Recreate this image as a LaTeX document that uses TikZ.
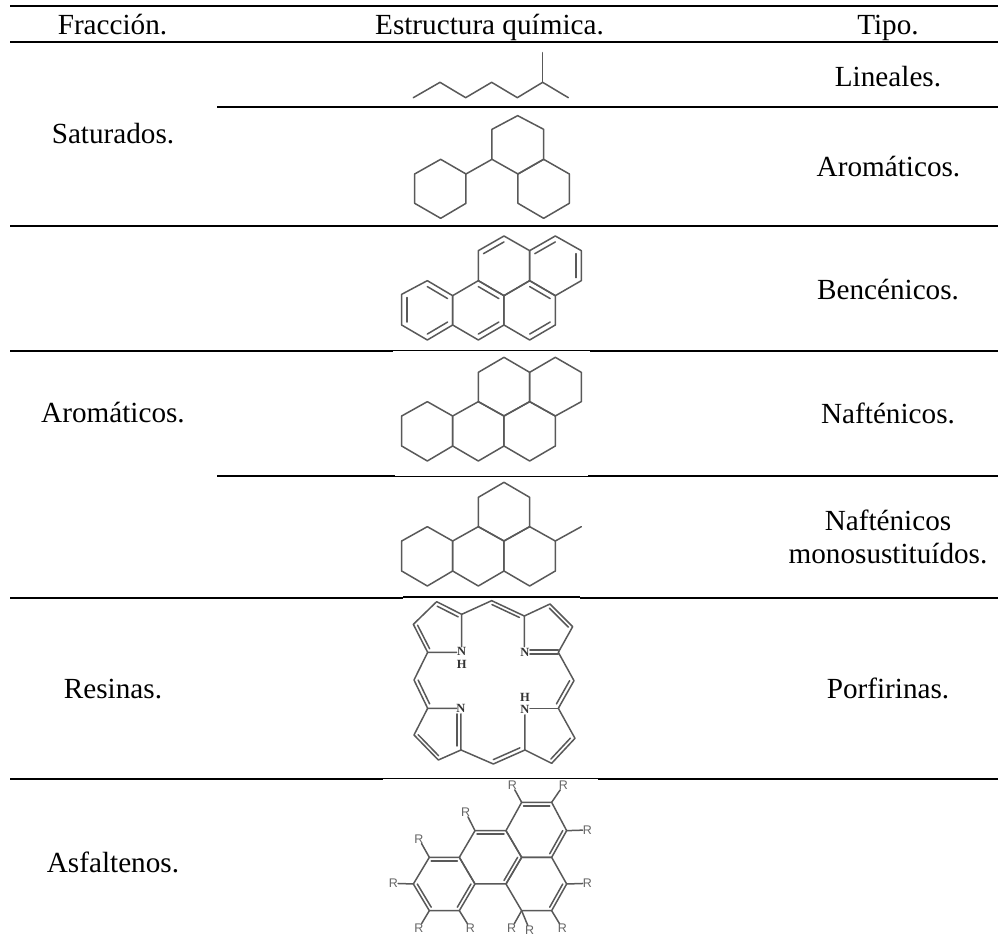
\documentclass[tikz,border=0pt]{standalone}
\usepackage{fontspec}
\setmainfont{Liberation Serif}
\newfontfamily\molsans{Liberation Sans}
\usetikzlibrary{calc}
\tikzset{
  txt/.style={inner sep=0pt,anchor=base,align=center,font=\fontsize{29.2}{34}\selectfont,text=black},
  rule/.style={line width=2pt,black},
  thinrule/.style={line width=1.1pt,black},
  bond/.style={line width=1.5pt,draw=black!65,line join=round,line cap=round},
  zoomed/.style={shift={#1},x=0.3333pt,y=-0.3333pt},
  atomN/.style={inner sep=0pt,font=\fontsize{12.5}{13}\selectfont\bfseries,text=black!80},
  atomR/.style={inner sep=0pt,font=\molsans\fontsize{12.5}{13}\selectfont,text=black!60}
}
\newcommand{\hexring}[6]{\draw[bond] #1 -- #2 -- #3 -- #4 -- #5 -- #6 -- cycle;}
\newcommand{\dbl}[4][.8]{\draw[bond] ($#4!#1!#2$) -- ($#4!#1!#3$);}
\begin{document}
\begin{tikzpicture}[x=1pt,y=-1pt]
\useasboundingbox (0,0) rectangle (998,941);
\fill[white] (0,0) rectangle (998,941);

% table rules
\draw[rule] (10,6) -- (998,6);
\draw[rule] (10,42) -- (998,42);
\draw[rule] (217,107.5) -- (998,107.5);
\draw[rule] (10,226) -- (998,226);
\draw[rule] (10,351) -- (393,351);
\draw[rule] (590,351) -- (998,351);
\draw[thinrule] (393,350.5) -- (590,350.5);
\draw[rule] (217,476) -- (395,476);
\draw[rule] (588,476) -- (998,476);
\draw[thinrule] (395,476.4) -- (588,476.4);
\draw[rule] (10,597.5) -- (403,597.5);
\draw[rule] (580,597.5) -- (998,597.5);
\draw[thinrule] (403,597) -- (580,597);
\draw[rule] (10,779) -- (383,779);
\draw[rule] (598,779) -- (998,779);
\draw[thinrule] (383,778.6) -- (598,778.6);

% texts
\node[txt] (h1) at (112.5,35) {Fracción.};
\node[txt] (h2) at (489.5,34.5) {Estructura química.};
\node[txt] (h3) at (888,35) {Tipo.};
\node[txt] (f1) at (113,144) {Saturados.};
\node[txt] (f2) at (113,422) {Aromáticos.};
\node[txt] (f3) at (113,698) {Resinas.};
\node[txt] (f4) at (113,872) {Asfaltenos.};
\node[txt] (t1) at (888,87) {Lineales.};
\node[txt] (t2) at (888.5,177) {Aromáticos.};
\node[txt] (t3) at (888,299) {Bencénicos.};
\node[txt] (t4) at (888,423) {Nafténicos.};
\node[txt] (t5a) at (888,530) {Nafténicos};
\node[txt] (t5b) at (888,563) {monosustituídos.};
\node[txt] (t6) at (888,698) {Porfirinas.};

% lineal + saturated rings
\begin{scope}[zoomed={(380pt,-30pt)}]
\draw[bond] (100,203) -- (180,157) -- (257,203) -- (335,157) -- (412,203) -- (488,157) -- (565,203);
\draw[bond] (488,157) -- (488,68);
\hexring{(104,432)}{(182,388)}{(258,432)}{(258,520)}{(182,565)}{(104,520)}
\draw[bond] (258,432) -- (336,388);
\hexring{(336,388)}{(336,298)}{(413,257)}{(491,298)}{(491,388)}{(414,432)}
\hexring{(414,432)}{(491,388)}{(568,432)}{(568,520)}{(491,565)}{(414,520)}
\end{scope}

% bencenicos
\begin{scope}[zoomed={(380pt,-225pt)}]
\hexring{(65,208)}{(142,167)}{(218,212)}{(218,300)}{(142,345)}{(65,300)}
\hexring{(218,212)}{(295,167)}{(372,212)}{(372,300)}{(295,345)}{(218,300)}
\hexring{(372,212)}{(449,167)}{(526,212)}{(526,300)}{(449,345)}{(372,300)}
\hexring{(295,167)}{(295,77)}{(372,33)}{(449,77)}{(449,167)}{(372,212)}
\hexring{(449,77)}{(526,33)}{(604,77)}{(604,167)}{(526,212)}{(449,167)}
\dbl{(142,167)}{(218,212)}{(142,256)}
\dbl{(65,208)}{(65,300)}{(142,256)}
\dbl{(142,345)}{(218,300)}{(142,256)}
\dbl{(295,167)}{(372,212)}{(295,256)}
\dbl{(295,345)}{(372,300)}{(295,256)}
\dbl{(449,167)}{(526,212)}{(449,256)}
\dbl{(449,345)}{(526,300)}{(449,256)}
\dbl{(295,77)}{(372,33)}{(372,122)}
\dbl{(449,77)}{(526,33)}{(526,122)}
\dbl{(604,77)}{(604,167)}{(526,122)}
\end{scope}

% naftenicos
\begin{scope}[zoomed={(380pt,-350pt)}]
\hexring{(65,198)}{(142,155)}{(218,198)}{(218,288)}{(142,333)}{(65,288)}
\hexring{(218,198)}{(295,155)}{(372,198)}{(372,288)}{(295,333)}{(218,288)}
\hexring{(372,198)}{(449,155)}{(526,198)}{(526,288)}{(449,333)}{(372,288)}
\hexring{(295,155)}{(295,67)}{(372,22)}{(449,67)}{(449,155)}{(372,198)}
\hexring{(449,67)}{(526,22)}{(604,67)}{(604,155)}{(526,198)}{(449,155)}
\end{scope}

% naftenicos monosustituidos
\begin{scope}[zoomed={(380pt,-475pt)}]
\hexring{(65,198)}{(142,155)}{(218,198)}{(218,288)}{(142,333)}{(65,288)}
\hexring{(218,198)}{(295,155)}{(372,198)}{(372,288)}{(295,333)}{(218,288)}
\hexring{(372,198)}{(449,155)}{(526,198)}{(526,288)}{(449,333)}{(372,288)}
\hexring{(295,155)}{(295,67)}{(372,22)}{(449,67)}{(449,155)}{(372,198)}
\draw[bond] (526,198) -- (604,155);
\end{scope}

% porfirinas
\begin{scope}[zoomed={(390pt,-590pt)}]
\draw[bond] (200,187) -- (113,187) -- (70,103) -- (140,35) -- (215,73) -- (215,170);
\draw[bond] (215,73) -- (305,32) -- (403,78) -- (403,170);
\draw[bond] (403,78) -- (480,42) -- (548,110) -- (505,187) -- (552,272) -- (505,355) -- (555,445) -- (485,520) -- (405,480) -- (405,375);
\draw[bond] (505,355) -- (420,355);
\draw[bond] (405,480) -- (310,522) -- (213,480) -- (213,372);
\draw[bond] (213,480) -- (145,510) -- (72,435) -- (113,355) -- (200,355);
\draw[bond] (113,355) -- (72,270) -- (113,187);
\draw[bond] (420,180) -- (505,180);
\draw[bond] (420,192) -- (505,192);
\draw[bond] (201,372) -- (201,468);
\dbl[.84]{(113,187)}{(70,103)}{(150,120)}
\dbl[.84]{(140,35)}{(215,73)}{(150,120)}
\dbl[.84]{(305,32)}{(403,78)}{(310,105)}
\dbl[.84]{(480,42)}{(548,110)}{(470,120)}
\dbl[.84]{(552,272)}{(505,355)}{(470,272)}
\dbl[.84]{(555,445)}{(485,520)}{(470,440)}
\dbl[.84]{(405,480)}{(310,522)}{(310,440)}
\dbl[.84]{(145,510)}{(72,435)}{(150,430)}
\dbl[.84]{(72,270)}{(113,355)}{(150,272)}
\node[atomN] (n1) at (215,185) {N};
\node[atomN] (h1a) at (215,222) {H};
\node[atomN] (n2) at (405,188) {N};
\node[atomN] (n3) at (213,355) {N};
\node[atomN] (n4) at (405,358) {N};
\node[atomN] (h4a) at (405,322) {H};
\end{scope}

% asfaltenos
\begin{scope}[zoomed={(380pt,-770pt)}]
\hexring{(148,262)}{(238,262)}{(285,342)}{(238,422)}{(148,422)}{(100,342)}
\hexring{(238,262)}{(285,182)}{(378,182)}{(425,262)}{(378,342)}{(285,342)}
\hexring{(378,182)}{(425,97)}{(515,97)}{(560,182)}{(515,262)}{(425,262)}
\hexring{(425,262)}{(515,262)}{(560,342)}{(515,422)}{(425,422)}{(378,342)}
\dbl[.87]{(148,262)}{(238,262)}{(192,342)}
\dbl[.87]{(100,342)}{(148,422)}{(192,342)}
\dbl[.87]{(238,422)}{(285,342)}{(192,342)}
\dbl[.87]{(285,182)}{(378,182)}{(332,262)}
\dbl[.87]{(425,97)}{(515,97)}{(470,180)}
\dbl[.87]{(560,182)}{(515,262)}{(470,180)}
\dbl[.87]{(378,342)}{(425,262)}{(332,262)}
\dbl[.87]{(560,342)}{(515,422)}{(470,342)}
\node[atomR] (r1) at (117,207) {R};
\node[atomR] (r2) at (40,340) {R};
\node[atomR] (r3) at (117,474) {R};
\node[atomR] (r4) at (271,475) {R};
\node[atomR] (r5) at (257,127) {R};
\node[atomR] (r6) at (397,46) {R};
\node[atomR] (r7) at (550,46) {R};
\node[atomR] (r8) at (622,180) {R};
\node[atomR] (r9) at (622,340) {R};
\node[atomR] (r10) at (547,475) {R};
\node[atomR] (r11) at (395,475) {R};
\node[atomR] (r12) at (449,480) {R};
\coordinate (a1) at (148,262);
\coordinate (a2) at (100,342);
\coordinate (a3) at (148,422);
\coordinate (a4) at (238,422);
\coordinate (a5) at (285,182);
\coordinate (a6) at (425,97);
\coordinate (a7) at (515,97);
\coordinate (a8) at (560,182);
\coordinate (a9) at (560,342);
\coordinate (a10) at (515,422);
\coordinate (a11) at (425,422);
\draw[bond] (a1) -- (r1);
\draw[bond] (a2) -- (r2);
\draw[bond] (a3) -- (r3);
\draw[bond] (a4) -- (r4);
\draw[bond] (a5) -- (r5);
\draw[bond] (a6) -- (r6);
\draw[bond] (a7) -- (r7);
\draw[bond] (a8) -- (r8);
\draw[bond] (a9) -- (r9);
\draw[bond] (a10) -- (r10);
\draw[bond] (a11) -- (r11);
\draw[bond] (a11) -- (r12);
\end{scope}
\end{tikzpicture}
\end{document}
